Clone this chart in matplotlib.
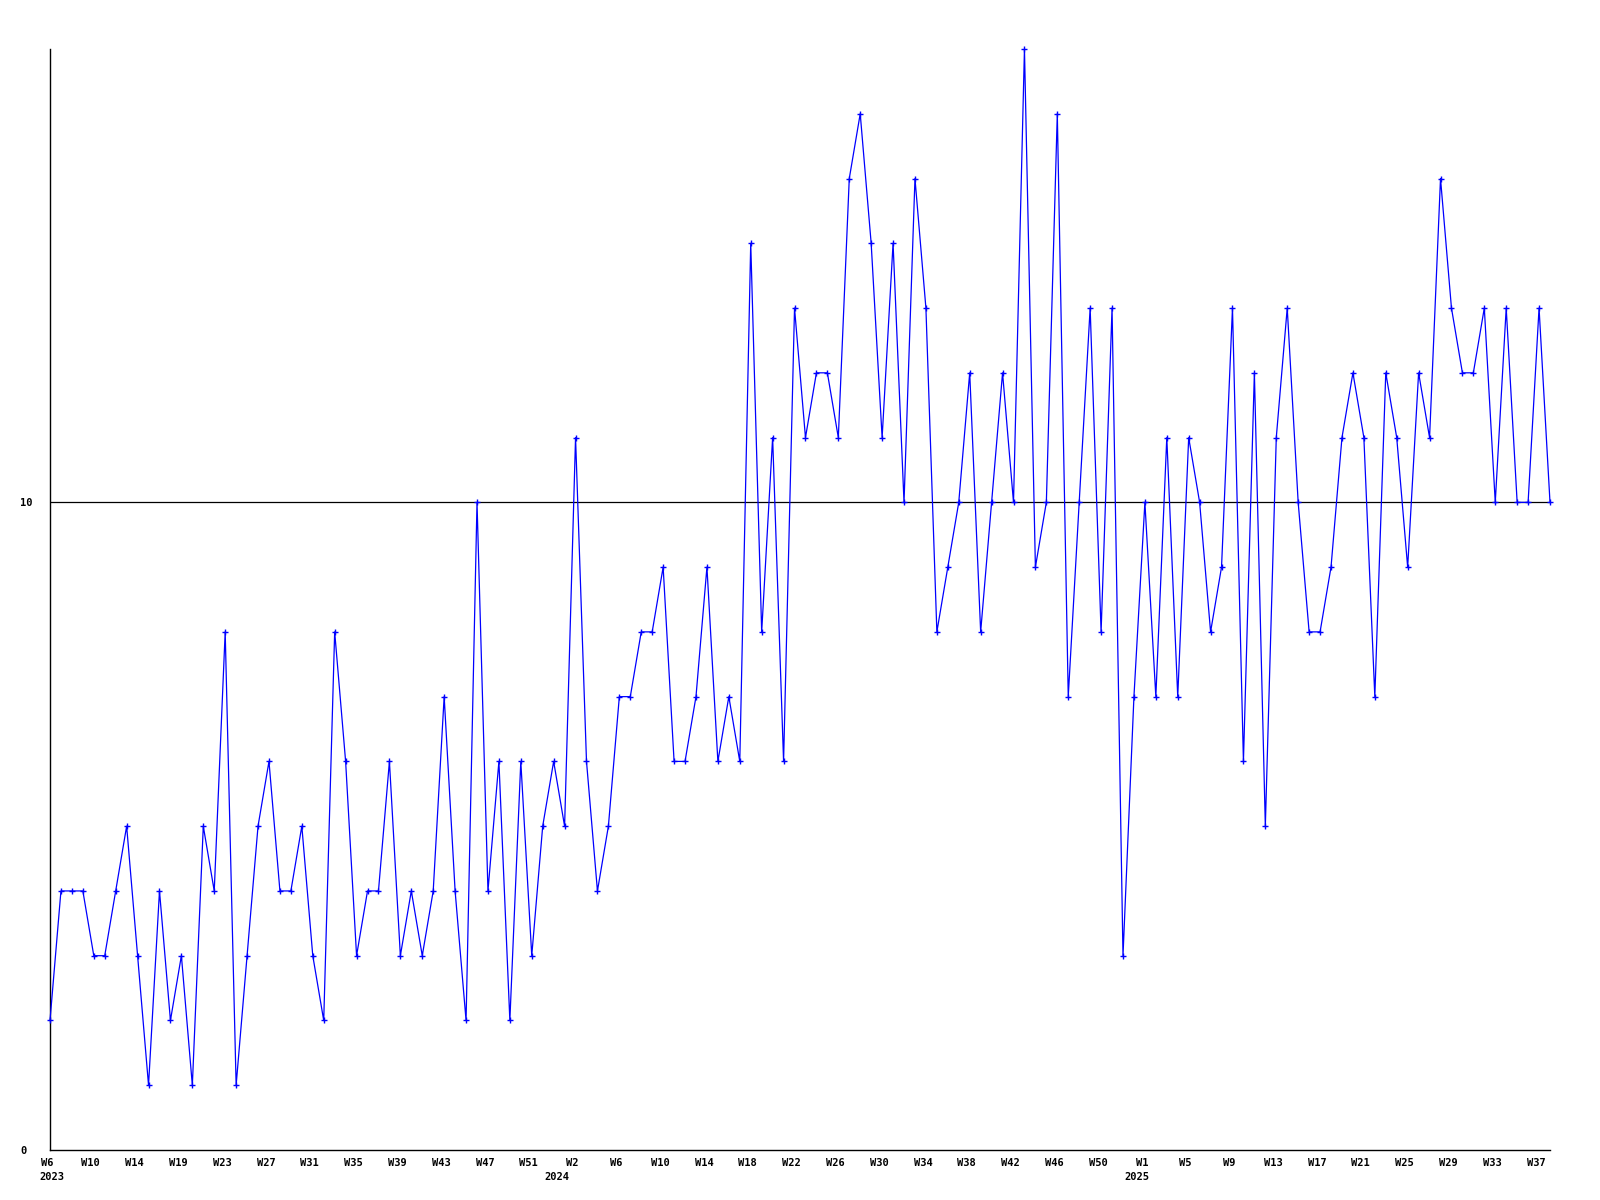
import numpy as np
import matplotlib
matplotlib.use("Agg")
import matplotlib.pyplot as plt
import matplotlib.transforms as mtransforms

# weekly values, 2023 W6 .. 2025 W38
values = [2, 4, 4, 4, 3, 3, 4, 5, 3, 1,
          4, 2, 3, 1, 5, 4, 8, 1, 3, 5,
          6, 4, 4, 5, 3, 2, 8, 6, 3, 4,
          4, 6, 3, 4, 3, 4, 7, 4, 2, 10,
          4, 6, 2, 6, 3, 5, 6, 5, 11, 6,
          4, 5, 7, 7, 8, 8, 9, 6, 6, 7,
          9, 6, 7, 6, 14, 8, 11, 6, 13, 11,
          12, 12, 11, 15, 16, 14, 11, 14, 10, 15,
          13, 8, 9, 10, 12, 8, 10, 12, 10, 17,
          9, 10, 16, 7, 10, 13, 8, 13, 3, 7,
          10, 7, 11, 7, 11, 10, 8, 9, 13, 6,
          12, 5, 11, 13, 10, 8, 8, 9, 11, 12,
          11, 7, 12, 11, 9, 12, 11, 15, 13, 12,
          12, 13, 10, 13, 10, 10, 13, 10]

week_labels = ['W6', 'W10', 'W14', 'W19', 'W23', 'W27', 'W31', 'W35', 'W39',
               'W43', 'W47', 'W51',
               'W2', 'W6', 'W10', 'W14', 'W18', 'W22', 'W26', 'W30', 'W34',
               'W38', 'W42', 'W46', 'W50',
               'W1', 'W5', 'W9', 'W13', 'W17', 'W21', 'W25', 'W29', 'W33', 'W37']

years = ['2023', '2024', '2025']
year_pos = [-1.0, 46.3, 99.3]      # where the year text sits (x index)
year_ha = ['left', 'center', 'center']

ref_level = 10

x = np.arange(len(values))
font = dict(family='DejaVu Sans Mono', weight='bold', size=7.5)

fig = plt.figure(figsize=(16, 12), dpi=100)
ax = fig.add_axes([50 / 1600, 50 / 1200, 1500 / 1600, 1101 / 1200])

ax.axhline(ref_level, color='black', lw=0.9, zorder=1)
ax.plot(x, values, color='#0000ff', lw=0.9, marker='+', ms=5, mew=1,
        clip_on=False, zorder=3)

ax.set_xlim(0, len(values) - 1)
ax.set_ylim(0, max(values))

ax.spines['top'].set_visible(False)
ax.spines['right'].set_visible(False)
ax.spines['left'].set_linewidth(1)
ax.spines['bottom'].set_linewidth(1)

ax.set_xticks(x[::4][:len(week_labels)])
ax.set_xticklabels(week_labels, fontdict=font)
ax.tick_params(axis='x', length=0, pad=6)
shift = mtransforms.ScaledTranslation(-3 / 100, 0, fig.dpi_scale_trans)
for lbl in ax.get_xticklabels():
    lbl.set_transform(lbl.get_transform() + shift)

# year captions under the first week of each year
trans = mtransforms.blended_transform_factory(ax.transData, fig.transFigure)
for yr, xp, ha in zip(years, year_pos, year_ha):
    ax.text(xp, 1 - 1172 / 1200, yr, transform=trans, ha=ha, va='top',
            **font)

ax.set_yticks([0, ref_level])
ax.set_yticklabels(['0', str(ref_level)], fontdict=font)
ax.tick_params(axis='y', length=0, pad=21.6)
for lbl in ax.get_yticklabels():
    lbl.set_ha('left')

fig.savefig('out.png', dpi=100, facecolor='white')
